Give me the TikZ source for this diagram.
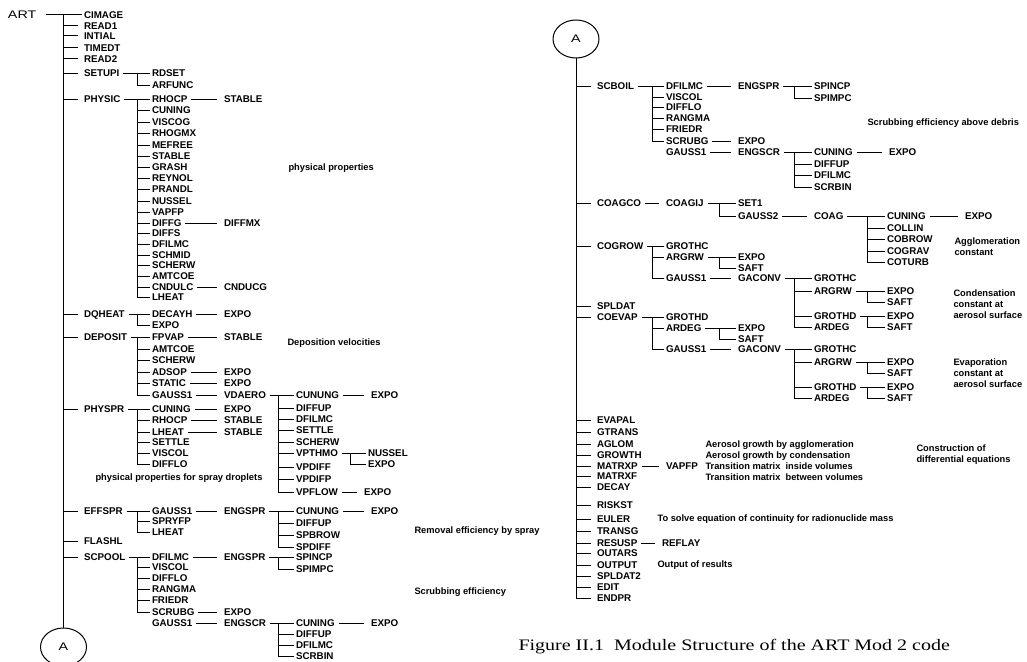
\documentclass[tikz,border=0pt]{standalone}
\usepackage{fontspec}
\setmainfont{Liberation Serif}
\setsansfont{Liberation Sans}
\newfontfamily\widefont{Liberation Sans}[FakeStretch=1.3]
\newfontfamily\capfont{Liberation Serif}[FakeStretch=1.25]
\usetikzlibrary{shapes.geometric}

\newcommand\modfont{\sffamily\bfseries\fontsize{9.8}{11}\selectfont}
\newcommand\notefont{\sffamily\bfseries\fontsize{9.3}{11}\selectfont}

\tikzset{
  mod/.style={anchor=west, font=\modfont, inner xsep=1.5pt, inner ysep=1pt,
    text height=7pt, text depth=0pt},
  note/.style={anchor=west, font=\notefont, align=left, inner sep=0pt},
  hop/.style={shorten <=2pt, shorten >=5pt},
  stem/.style={shorten >=4pt},
  bub/.style={draw, ellipse, minimum width=46pt, minimum height=38pt,
    inner sep=0pt, font=\widefont\fontsize{11}{13}\selectfont},
}

% parent, bracket x, child x, children name/label/y
\newcommand\fanout[4]{%
  \coordinate (#1-b) at (#1.east -| #2,0);
  \draw[shorten <=2pt] (#1.east) -- (#1-b);
  \foreach \nm/\lab/\yy in {#4} {
    \node[mod] (\nm) at (#3,\yy) {\lab};
    \draw (#1-b) |- (\nm.west);
  }}
% parent, name, x, label
\newcommand\stepto[4]{%
  \node[mod] (#2) at (#1 -| #3,0) {#4};
  \draw[hop] (#1) -- (#2);}

\begin{document}
\begin{tikzpicture}[x=1pt, y=-1pt, line width=1pt]
  \useasboundingbox (0,0) rectangle (1027,661);
  \clip (0,0) rectangle (1027,661);

  % left half
  \node[mod, font=\widefont\fontsize{11}{13}\selectfont, text height=8pt] (art) at (6,15) {ART};
  \coordinate (lt) at (63.5,15);
  \foreach \nm/\lab/\yy in {cimage/CIMAGE/15, read1/READ1/26, intial/INTIAL/36,
      timedt/TIMEDT/48, read2/READ2/59, setupi/SETUPI/73, physic/PHYSIC/99,
      dqheat/DQHEAT/314, deposit/DEPOSIT/337, physpr/PHYSPR/409,
      effspr/EFFSPR/511, flashl/FLASHL/541, scpool/SCPOOL/557} {
    \node[mod] (\nm) at (82,\yy) {\lab};
    \draw[stem] (\nm.west -| lt) -- (\nm.west);
  }
  \draw[shorten <=8pt] (art) -- (cimage);
  \node[bub] (la) at (63.5,647) {A};
  \draw (lt) -- (la);

  \fanout{setupi}{137}{150}{rdset/RDSET/73, arfunc/ARFUNC/85}

  \fanout{physic}{137}{150}{ph1/RHOCP/99, ph2/CUNING/110, ph3/VISCOG/122,
    ph4/RHOGMX/133, ph5/MEFREE/145, ph6/STABLE/156, ph7/GRASH/167,
    ph8/REYNOL/178, ph9/PRANDL/189, ph10/NUSSEL/201, ph11/VAPFP/212,
    ph12/DIFFG/223, ph13/DIFFS/233, ph14/DFILMC/244, ph15/SCHMID/255,
    ph16/SCHERW/265, ph17/AMTCOE/276, ph18/CNDULC/287, ph19/LHEAT/297}
  \stepto{ph1}{ph1a}{222}{STABLE}
  \stepto{ph12}{ph12a}{222}{DIFFMX}
  \stepto{ph18}{ph18a}{222}{CNDUCG}

  \fanout{dqheat}{137}{150}{dq1/DECAYH/314, dq2/EXPO/325}
  \stepto{dq1}{dq1a}{222}{EXPO}

  \fanout{deposit}{137}{150}{de1/FPVAP/337, de2/AMTCOE/349, de3/SCHERW/360,
    de4/ADSOP/372, de5/STATIC/383, de6/GAUSS1/395}
  \stepto{de1}{de1a}{222}{STABLE}
  \stepto{de4}{de4a}{222}{EXPO}
  \stepto{de5}{de5a}{222}{EXPO}
  \stepto{de6}{vdaero}{222}{VDAERO}
  \fanout{vdaero}{278}{294}{vd1/CUNUNG/395, vd2/DIFFUP/408, vd3/DFILMC/419,
    vd4/SETTLE/430, vd5/SCHERW/442, vd6/VPTHMO/453, vd7/VPDIFF/467,
    vd8/VPDIFP/479, vd9/VPFLOW/492}
  \stepto{vd1}{vd1a}{369}{EXPO}
  \fanout{vd6}{350}{366}{vd6a/NUSSEL/453, vd6b/EXPO/464}
  \stepto{vd9}{vd9a}{362}{EXPO}

  \fanout{physpr}{137}{150}{pr1/CUNING/409, pr2/RHOCP/420, pr3/LHEAT/432,
    pr4/SETTLE/442, pr5/VISCOL/453, pr6/DIFFLO/464}
  \stepto{pr1}{pr1a}{222}{EXPO}
  \stepto{pr2}{pr2a}{222}{STABLE}
  \stepto{pr3}{pr3a}{222}{STABLE}

  \fanout{effspr}{137}{150}{ef1/GAUSS1/511, ef2/SPRYFP/521, ef3/LHEAT/532}
  \stepto{ef1}{engspr1}{222}{ENGSPR}
  \fanout{engspr1}{278}{294}{es1/CUNUNG/511, es2/DIFFUP/523, es3/SPBROW/535,
    es4/SPDIFF/547}
  \stepto{es1}{es1a}{369}{EXPO}

  \fanout{scpool}{137}{150}{sp1/DFILMC/557, sp2/VISCOL/567, sp3/DIFFLO/578,
    sp4/RANGMA/589, sp5/FRIEDR/600, sp6/SCRUBG/612}
  \stepto{sp1}{engspr2}{222}{ENGSPR}
  \fanout{engspr2}{278}{294}{ei1/SPINCP/557, ei2/SPIMPC/569}
  \stepto{sp6}{sp6a}{222}{EXPO}
  \node[mod] (sp7) at (150,623) {GAUSS1};
  \stepto{sp7}{engscr1}{222}{ENGSCR}
  \fanout{engscr1}{278}{294}{sc1/CUNING/623, sc2/DIFFUP/634, sc3/DFILMC/645,
    sc4/SCRBIN/656}
  \stepto{sc1}{sc1a}{369}{EXPO}

  \node[note] (nphys) at (288,168) {physical properties};
  \node[note] (ndepo) at (287,343) {Deposition velocities};
  \node[note] (nspray) at (95,478) {physical properties for spray droplets};
  \node[note] (nremo) at (414,531) {Removal efficiency by spray};
  \node[note] (nscrub) at (414,592) {Scrubbing efficiency};

  % right half
  \node[bub] (ra) at (576,39) {A};
  \foreach \nm/\lab/\yy in {scboil/SCBOIL/86, coagco/COAGCO/203,
      cogrow/COGROW/246, spldat/SPLDAT/306, coevap/COEVAP/317,
      evapal/EVAPAL/420, gtrans/GTRANS/432, aglom/AGLOM/444,
      growth/GROWTH/455, matrxp/MATRXP/466, matrxf/MATRXF/476,
      decay/DECAY/487, riskst/RISKST/505, euler/EULER/519,
      transg/TRANSG/531, resusp/RESUSP/543, outars/OUTARS/553,
      output/OUTPUT/565, spldatb/SPLDAT2/576, edit/EDIT/587,
      endpr/ENDPR/598} {
    \node[mod] (\nm) at (595,\yy) {\lab};
    \draw[stem] (\nm.west -| ra) -- (\nm.west);
  }
  \draw[stem] (ra) |- (endpr.west);

  \fanout{scboil}{652}{664}{sb1/DFILMC/86, sb2/VISCOL/97, sb3/DIFFLO/107,
    sb4/RANGMA/118, sb5/FRIEDR/129, sb6/SCRUBG/141}
  \stepto{sb1}{engspr3}{736}{ENGSPR}
  \fanout{engspr3}{794}{812}{ei3/SPINCP/86, ei4/SPIMPC/98}
  \stepto{sb6}{sb6a}{736}{EXPO}
  \node[mod] (sb7) at (664,152) {GAUSS1};
  \stepto{sb7}{engscr2}{736}{ENGSCR}
  \fanout{engscr2}{794}{812}{sc5/CUNING/152, sc6/DIFFUP/164, sc7/DFILMC/175,
    sc8/SCRBIN/187}
  \stepto{sc5}{sc5a}{887}{EXPO}

  \stepto{coagco}{coagij}{664}{COAGIJ}
  \fanout{coagij}{719.5}{736}{ca1/SET1/203, ca2/GAUSS2/216}
  \stepto{ca2}{coag}{812}{COAG}
  \fanout{coag}{867}{885}{co1/CUNING/216, co2/COLLIN/228, co3/COBROW/239,
    co4/COGRAV/251, co5/COTURB/262}
  \stepto{co1}{co1a}{963}{EXPO}

  \fanout{cogrow}{652}{664}{cg1/GROTHC/246, cg2/ARGRW/257, cg3/GAUSS1/278}
  \fanout{cg2}{719.5}{736}{cg2a/EXPO/257, cg2b/SAFT/268}
  \stepto{cg3}{gaconv1}{736}{GACONV}
  \fanout{gaconv1}{794}{812}{gc1/GROTHC/278, gc2/ARGRW/291, gc3/GROTHD/316,
    gc4/ARDEG/327}
  \fanout{gc2}{867}{885}{gc2a/EXPO/291, gc2b/SAFT/302}
  \fanout{gc3}{867}{885}{gc3a/EXPO/316, gc3b/SAFT/327}

  \fanout{coevap}{652}{664}{ce1/GROTHD/317, ce2/ARDEG/328, ce3/GAUSS1/349}
  \fanout{ce2}{719.5}{736}{ce2a/EXPO/328, ce2b/SAFT/339}
  \stepto{ce3}{gaconv2}{736}{GACONV}
  \fanout{gaconv2}{794}{812}{gd1/GROTHC/349, gd2/ARGRW/362, gd3/GROTHD/387,
    gd4/ARDEG/398}
  \fanout{gd2}{867}{885}{gd2a/EXPO/362, gd2b/SAFT/373}
  \fanout{gd3}{867}{885}{gd3a/EXPO/387, gd3b/SAFT/398}

  \stepto{matrxp}{vapfp}{664}{VAPFP}
  \stepto{resusp}{reflay}{660}{REFLAY}

  \node[note] (nabove) at (867,123) {Scrubbing efficiency above debris};
  \node[note] (naggl) at (954,247) {Agglomeration\\constant};
  \node[note] (ncond) at (953,304) {Condensation\\constant at\\aerosol surface};
  \node[note] (nevap) at (953,373) {Evaporation\\constant at\\aerosol surface};
  \node[note] (ngrow) at (705,461) {Aerosol growth by agglomeration\\
    Aerosol growth by condensation\\Transition matrix\ \ inside volumes\\
    Transition matrix\ \ between volumes};
  \node[note] (ndiff) at (916,455) {Construction of\\differential equations};
  \node[note] (neuler) at (657,519) {To solve equation of continuity for radionuclide mass};
  \node[note] (nout) at (657,565) {Output of results};

  \node[anchor=west, inner sep=0pt, font=\capfont\fontsize{16}{18}\selectfont]
    (caption) at (518,647) {Figure II.1\ \ Module Structure of the ART Mod 2 code};
\end{tikzpicture}
\end{document}
